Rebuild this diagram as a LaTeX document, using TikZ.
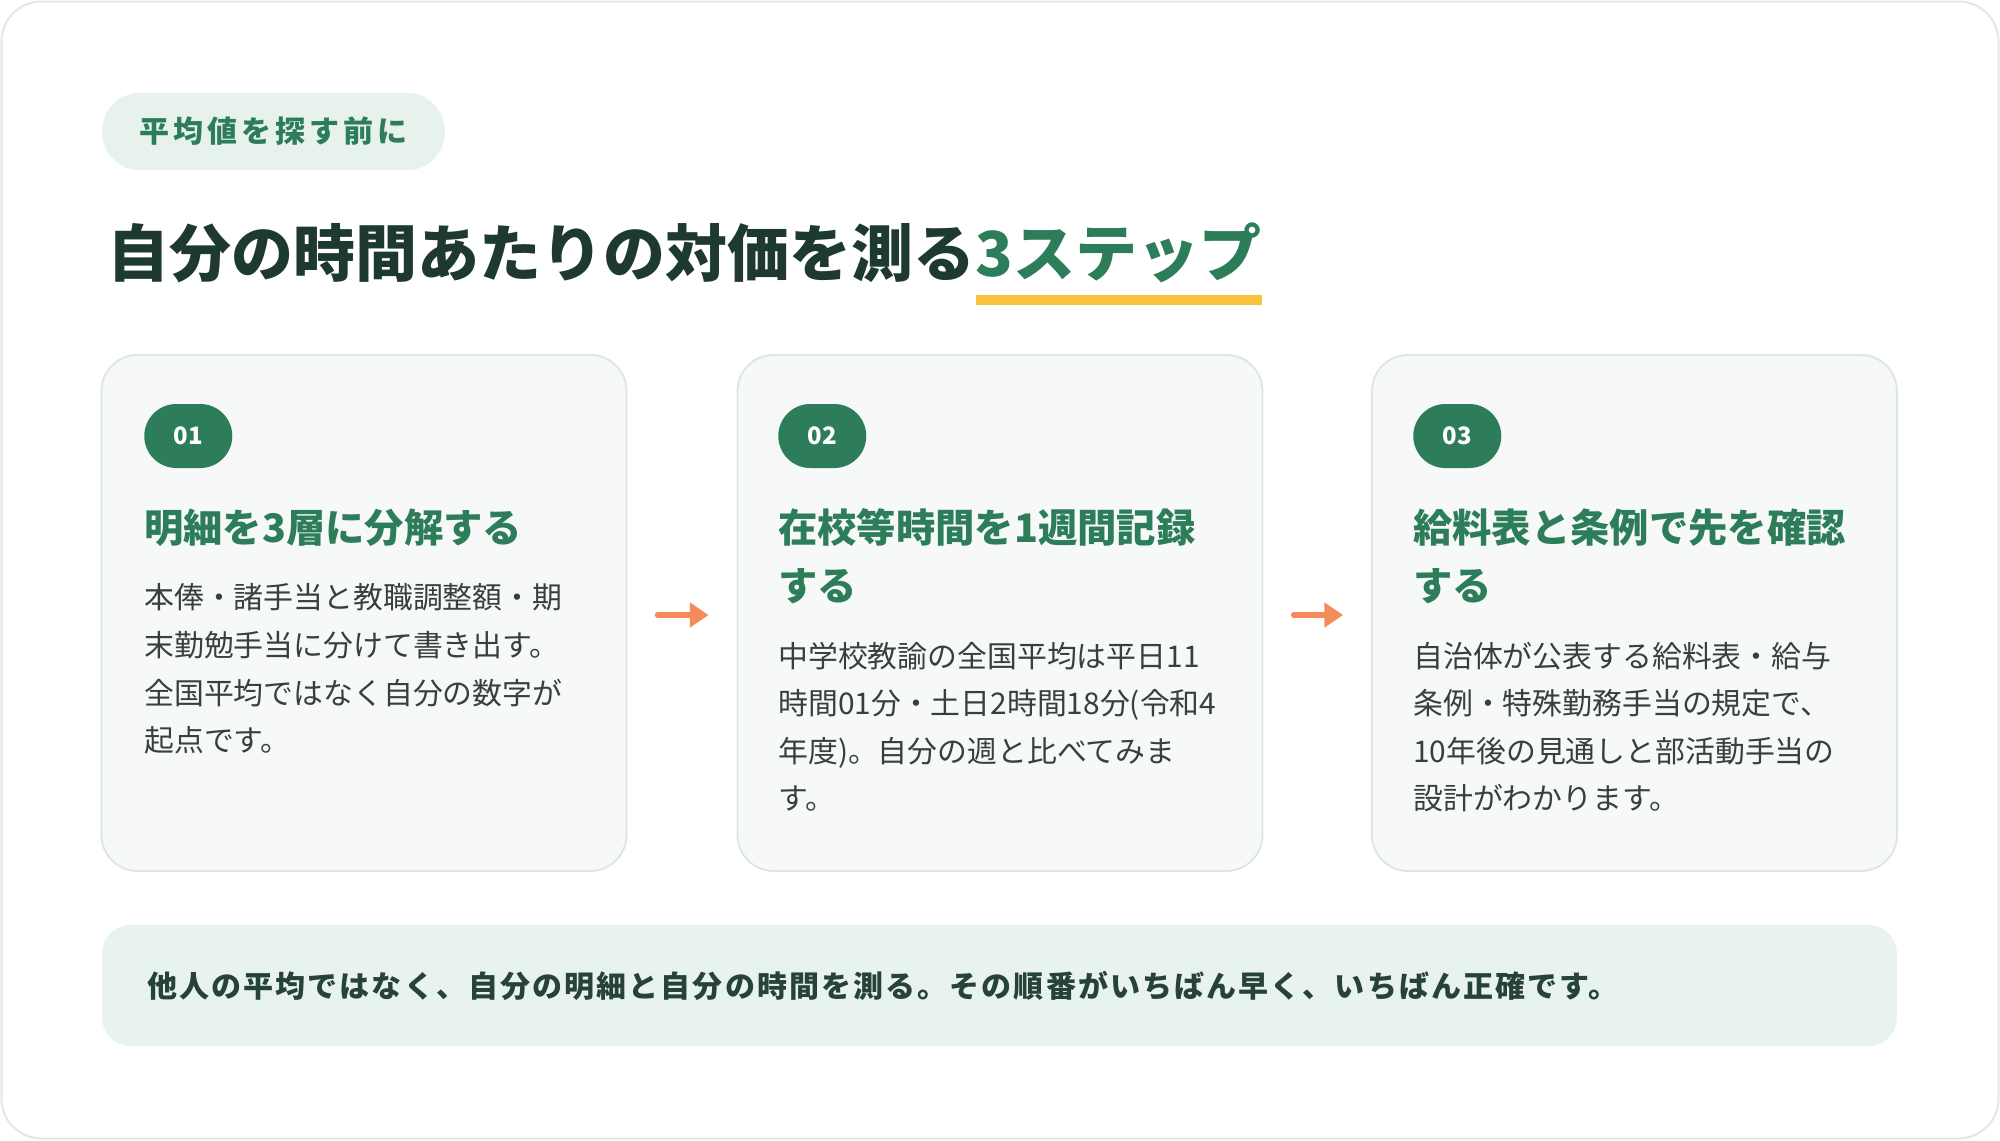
\documentclass[tikz,border=0pt]{standalone}
\usepackage{fontspec}
\newfontfamily\jp{Noto Sans CJK JP}
\usetikzlibrary{arrows.meta,calc}
\definecolor{ink}{HTML}{1E3A2F}
\definecolor{accent}{HTML}{2E7D5A}
\definecolor{bodyc}{HTML}{36413C}
\definecolor{pillfill}{HTML}{E7F2EC}
\definecolor{cardfill}{HTML}{F6F9F8}
\definecolor{cardline}{HTML}{DCE7E2}
\definecolor{framec}{HTML}{E2E8E5}
\definecolor{gold}{HTML}{F9C23C}
\definecolor{orangec}{HTML}{F58A5B}
\definecolor{bannerc}{HTML}{E8F3EE}
\definecolor{bannertxt}{HTML}{26423A}
\begin{document}
\begin{tikzpicture}[x=0.75pt,y=-0.75pt,
  txt/.style={inner sep=0pt, anchor=base west},
  maintitle/.style={txt, text=ink, font=\jp\bfseries\fontsize{46.5pt}{56pt}\selectfont},
  steptitle/.style={txt, text=accent, font=\jp\bfseries\fontsize{29.5pt}{36pt}\selectfont},
  bodytxt/.style={txt, text=bodyc, font=\jp\fontsize{22.4pt}{30pt}\selectfont},
  pill/.style={fill=pillfill, rounded corners=28.5pt, minimum width=257pt, minimum height=58pt, inner sep=0pt,
     text=accent, font=\jp\bfseries\fontsize{22.5pt}{26pt}\selectfont\addfontfeature{LetterSpace=13}},
  card/.style={fill=cardfill, draw=cardline, line width=1.4pt, rounded corners=27pt,
     minimum width=393.75pt, minimum height=387pt, inner sep=0pt},
  badge/.style={fill=accent, rounded corners=24pt, minimum width=66pt, minimum height=48pt, inner sep=0pt,
     text=white, font=\jp\bfseries\fontsize{18pt}{20pt}\selectfont, anchor=west},
  banner/.style={fill=bannerc, rounded corners=21pt, minimum width=1346pt, minimum height=90.75pt, inner sep=0pt},
  bannertext/.style={txt, text=bannertxt, font=\jp\bfseries\fontsize{22.5pt}{26pt}\selectfont\addfontfeature{LetterSpace=7}},
  flow/.style={draw=orangec, line width=3.8pt, line cap=round,
     -{Triangle[length=14pt,width=18pt]}, shorten <=22.5pt, shorten >=21pt}
]
\useasboundingbox (0,0) rectangle (2000,1140);
\fill[white] (0,0) rectangle (2000,1140);
\draw[framec, line width=1.5pt, rounded corners=30pt] (1.5,1.5) rectangle (1998.5,1138.5);

% header
\node[pill] (pill) at (273.5,131.5) {平均値を探す前に};
\node[maintitle] (t1) at (107,276.6) {自分の時間あたりの対価を測る};
\node[maintitle, text=accent] (t2) at (t1.base east) {3ステップ};
\fill[gold] ($(t2.south west)+(0,12)$) rectangle ($(t2.south east)+(0,22)$);

% cards
\node[card] (card1) at (364,613) {};
\node[card] (card2) at (1000,613) {};
\node[card] (card3) at (1634.5,613) {};

\node[badge] (b1) at (144,436) {01};
\node[badge] (b2) at (778,436) {02};
\node[badge] (b3) at (1413,436) {03};

\node[steptitle] (s1) at (144,542) {明細を3層に分解する};
\node[steptitle] (s2a) at (778,542) {在校等時間を1週間記録};
\node[steptitle] (s2b) at (778,600.5) {する};
\node[steptitle] (s3a) at (1413,542) {給料表と条例で先を確認};
\node[steptitle] (s3b) at (1413,600.5) {する};

\node[bodytxt] (p1a) at (144,608.4) {本俸・諸手当と教職調整額・期};
\node[bodytxt] (p1b) at (144,656.8) {末勤勉手当に分けて書き出す。};
\node[bodytxt] (p1c) at (144,704) {全国平均ではなく自分の数字が};
\node[bodytxt] (p1d) at (144,751.2) {起点です。};

\node[bodytxt] (p2a) at (778,667) {中学校教諭の全国平均は平日11};
\node[bodytxt] (p2b) at (778,714.2) {時間01分・土日2時間18分(令和4};
\node[bodytxt] (p2c) at (778,762.7) {年度)。自分の週と比べてみま};
\node[bodytxt] (p2d) at (778,809.9) {す。};

\node[bodytxt] (p3a) at (1413,667) {自治体が公表する給料表・給与};
\node[bodytxt] (p3b) at (1413,714.2) {条例・特殊勤務手当の規定で、};
\node[bodytxt] (p3c) at (1413,762.7) {10年後の見通しと部活動手当の};
\node[bodytxt] (p3d) at (1413,809.9) {設計がわかります。};

% arrows
\draw[flow] ([yshift=-1.5pt]card1.east) -- ([yshift=-1.5pt]card2.west);
\draw[flow] ([yshift=-1.5pt]card2.east) -- ([yshift=-1.5pt]card3.west);

% banner
\node[banner] (banner) at (999.5,985.5) {};
\node[bannertext] (bt) at (147,997.4) {他人の平均ではなく、自分の明細と自分の時間を測る。その順番がいちばん早く、いちばん正確です。};
\end{tikzpicture}
\end{document}
